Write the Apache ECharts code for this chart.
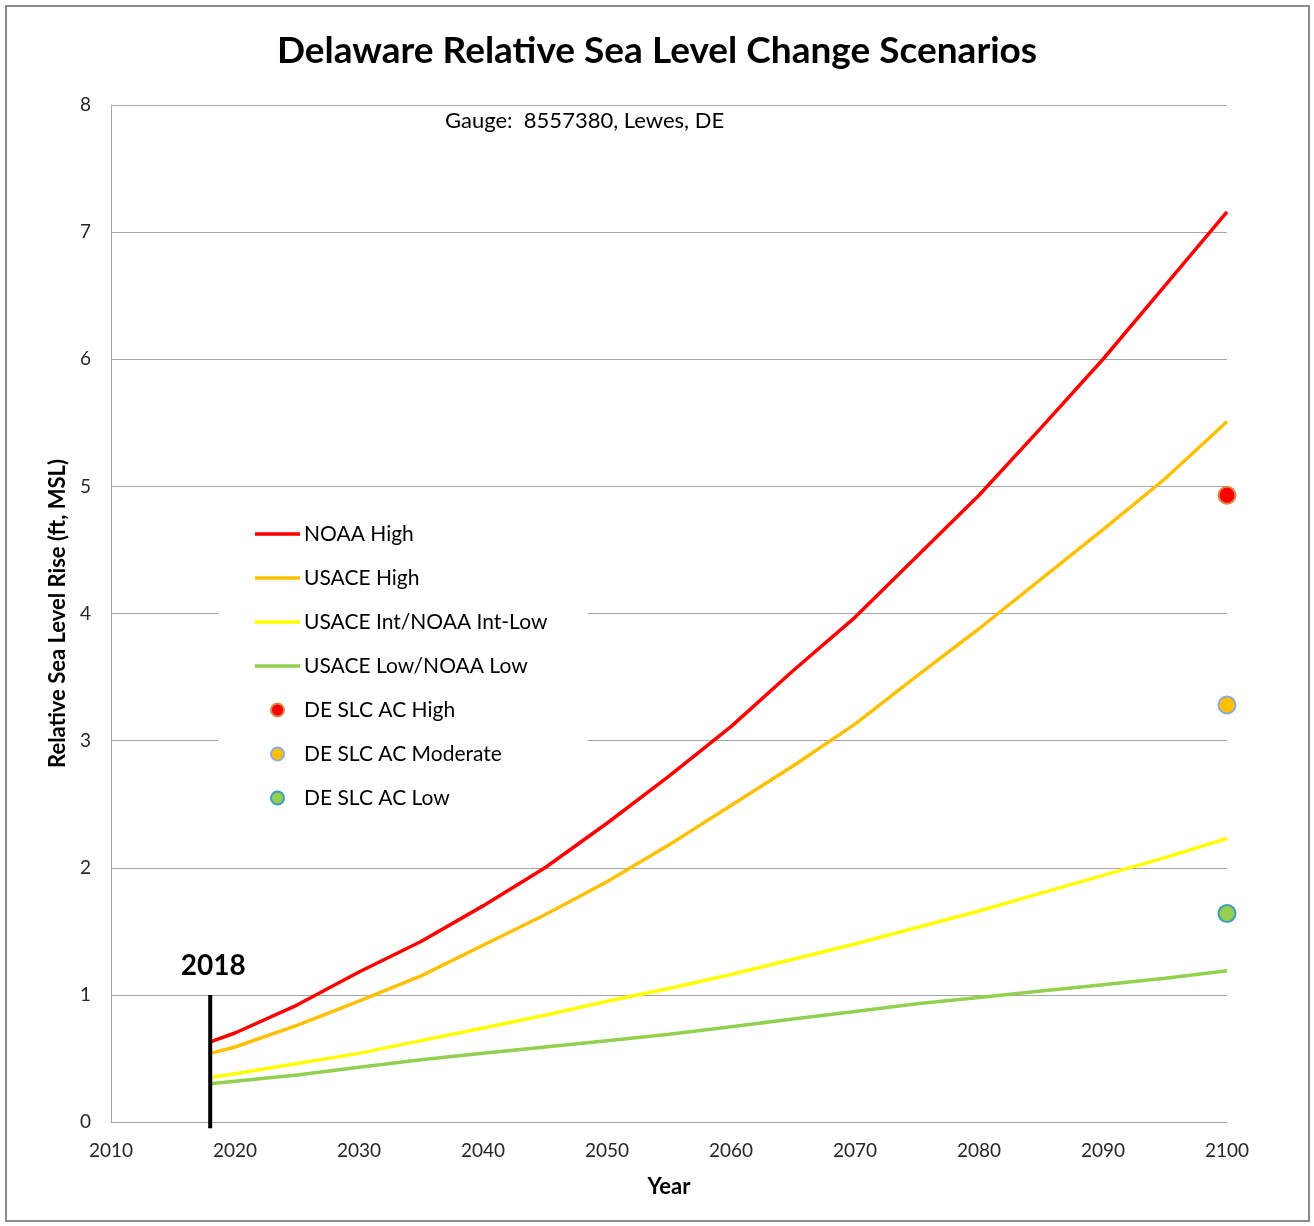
<!DOCTYPE html>
<html>
<head>
<meta charset="utf-8">
<title>Delaware Relative Sea Level Change Scenarios</title>
<script src="https://cdn.jsdelivr.net/npm/echarts@6/dist/echarts.min.js"></script>
<style>
  html, body { margin: 0; padding: 0; background: #fff; }
  #chart { width: 1314px; height: 1226px; }
</style>
</head>
<body>
<div id="chart"></div>
<script>
// Projection years (ft above MSL, relative to gauge 8557380, Lewes, DE)
const years = [2018, 2020, 2025, 2030, 2035, 2040, 2045, 2050, 2055, 2060, 2065, 2070, 2075, 2080, 2085, 2090, 2095, 2100];
const noaaHigh  = [0.63, 0.70, 0.92, 1.18, 1.42, 1.70, 2.00, 2.35, 2.72, 3.11, 3.55, 3.97, 4.45, 4.93, 5.46, 6.00, 6.58, 7.16];
const usaceHigh = [0.54, 0.59, 0.76, 0.95, 1.15, 1.39, 1.63, 1.89, 2.18, 2.49, 2.80, 3.13, 3.51, 3.88, 4.27, 4.66, 5.06, 5.51];
const usaceInt  = [0.35, 0.38, 0.46, 0.54, 0.64, 0.74, 0.84, 0.95, 1.05, 1.16, 1.28, 1.40, 1.53, 1.66, 1.80, 1.94, 2.08, 2.23];
const usaceLow  = [0.30, 0.32, 0.37, 0.43, 0.49, 0.54, 0.59, 0.64, 0.69, 0.75, 0.81, 0.87, 0.93, 0.98, 1.03, 1.08, 1.13, 1.19];

// Delaware Sea Level Change Advisory Committee scenarios for 2100
const acYear = 2100;
const acHigh = 4.93;
const acModerate = 3.28;
const acLow = 1.64;

// Baseline year marker
const baseYear = 2018;
const baseMarker = [-0.05, 1.0];

const xTicks = { min: 2010, max: 2100, interval: 10 };
const yTicks = { min: 0, max: 8, interval: 1 };

const FONT = 'Lato';
const LINE_W = 3.5;
const pair = (xs, ys) => xs.map((x, i) => [x, ys[i]]);

const lineSeries = (name, color, values) => ({
  name, type: 'line', data: pair(years, values),
  symbol: 'none', smooth: false,
  lineStyle: { color, width: LINE_W },
  itemStyle: { color },
  z: 3
});

const dotSeries = (name, fill, border, value) => ({
  name, type: 'scatter', data: [[acYear, value]],
  symbol: 'circle', symbolSize: 17, clip: false,
  itemStyle: { color: fill, borderColor: border, borderWidth: 2, opacity: 1 },
  z: 4
});

// Flat bar used as the legend swatch for the scenario curves
const lineIcon = 'path://M0,0L45,0L45,3.5L0,3.5Z';

const chart = echarts.init(document.getElementById('chart'), null, { renderer: 'canvas' });

chart.setOption({
  backgroundColor: '#ffffff',
  animation: false,
  title: [
    {
      text: 'Delaware Relative Sea Level Change Scenarios',
      left: 'center', top: 28,
      textStyle: { fontFamily: FONT, fontWeight: 'bold', fontSize: 37, color: '#000' }
    },
    {
      text: 'Gauge:  8557380, Lewes, DE',
      left: 440, top: 105,
      textStyle: { fontFamily: FONT, fontWeight: 'normal', fontSize: 22, color: '#000' }
    }
  ],
  graphic: [
    {
      type: 'rect', silent: true, z: -1,
      shape: { x: 6, y: 6, width: 1303, height: 1215 },
      style: { fill: 'none', stroke: '#8c8c8c', lineWidth: 2 }
    }
  ],
  grid: { left: 111, right: 87, top: 105, bottom: 104, containLabel: false },
  legend: {
    orient: 'vertical',
    left: 218, top: 500,
    padding: [22, 40, 22, 37],
    backgroundColor: '#ffffff',
    itemWidth: 45, itemHeight: 13, itemGap: 20,
    textStyle: { fontFamily: FONT, fontSize: 21, color: '#000', lineHeight: 24, padding: [0, 0, 0, -1] },
    data: [
      { name: 'NOAA High', icon: lineIcon },
      { name: 'USACE High', icon: lineIcon },
      { name: 'USACE Int/NOAA Int-Low', icon: lineIcon },
      { name: 'USACE Low/NOAA Low', icon: lineIcon },
      { name: 'DE SLC AC High', icon: 'circle' },
      { name: 'DE SLC AC Moderate', icon: 'circle' },
      { name: 'DE SLC AC Low', icon: 'circle' }
    ]
  },
  xAxis: {
    type: 'value', min: xTicks.min, max: xTicks.max, interval: xTicks.interval,
    name: 'Year', nameLocation: 'middle', nameGap: 54,
    nameTextStyle: { fontFamily: FONT, fontWeight: 'bold', fontSize: 22, color: '#000' },
    axisLine: { show: true, lineStyle: { color: '#a6a6a6', width: 1 } },
    axisTick: { show: false },
    axisLabel: { fontFamily: FONT, fontSize: 19, color: '#262626', margin: 19, formatter: v => String(v) },
    splitLine: { show: false }
  },
  yAxis: {
    type: 'value', min: yTicks.min, max: yTicks.max, interval: yTicks.interval,
    name: 'Relative Sea Level Rise (ft, MSL)', nameLocation: 'middle', nameGap: 42,
    nameTextStyle: { fontFamily: FONT, fontWeight: 'bold', fontSize: 22, color: '#000' },
    axisLine: { show: true, lineStyle: { color: '#a6a6a6', width: 1 } },
    axisTick: { show: false },
    axisLabel: { fontFamily: FONT, fontSize: 19, color: '#262626', margin: 20 },
    splitLine: { show: true, lineStyle: { color: '#a6a6a6', width: 1 } }
  },
  series: [
    lineSeries('NOAA High', '#ff0000', noaaHigh),
    lineSeries('USACE High', '#ffc000', usaceHigh),
    lineSeries('USACE Int/NOAA Int-Low', '#ffff00', usaceInt),
    lineSeries('USACE Low/NOAA Low', '#92d050', usaceLow),
    dotSeries('DE SLC AC High', '#ff0000', '#d98a4a', acHigh),
    dotSeries('DE SLC AC Moderate', '#ffc000', '#8eaadb', acModerate),
    dotSeries('DE SLC AC Low', '#92d050', '#3d9bbd', acLow),
    {
      name: 'baseline', type: 'line', clip: false, symbol: 'none',
      data: baseMarker.map(v => [baseYear, v]),
      lineStyle: { color: '#000', width: 4 },
      endLabel: {
        show: true, formatter: String(baseYear),
        fontFamily: FONT, fontWeight: 'bold', fontSize: 28, color: '#000',
        align: 'center', verticalAlign: 'bottom',
        offset: [-5, -15]
      },
      z: 5
    }
  ]
});
</script>
</body>
</html>
